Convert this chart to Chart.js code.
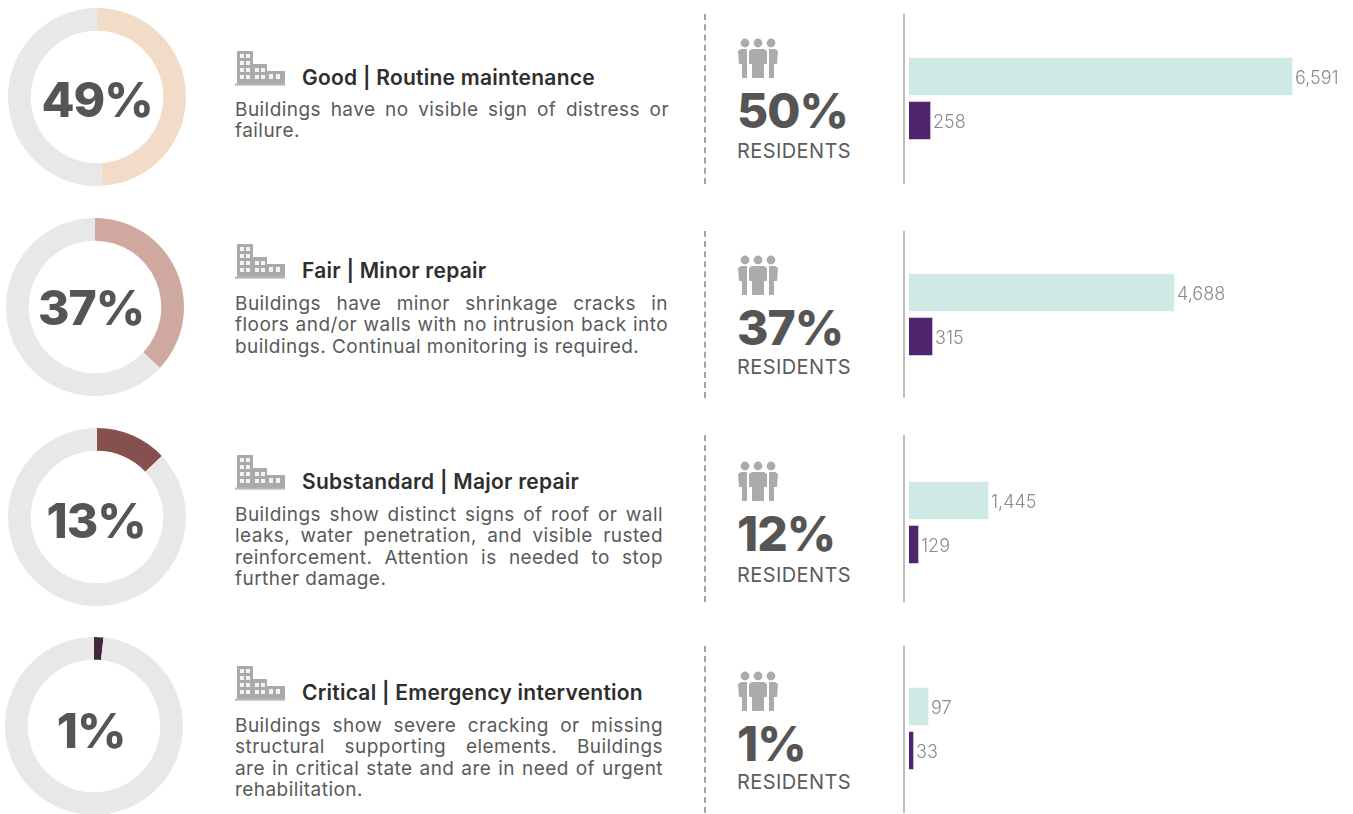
<!DOCTYPE html>
<html>
<head>
<meta charset="utf-8">
<title>Building condition</title>
<script src="https://cdn.jsdelivr.net/npm/chart.js@4"></script>
<style>
  html, body { margin: 0; background: #fff; width: 1353px; height: 814px; overflow: hidden; }
  body { position: relative; font-family: Inter, sans-serif; color: #555; }
  .abs { position: absolute; white-space: nowrap; }
  canvas { position: absolute; }
  .big { font-family: Inter, sans-serif; font-weight: 800; font-size: 48px; letter-spacing: -1px; color: #555; }
  .center { transform: translate(-50%, -50%); }
  .title { font-family: Inter, sans-serif; font-weight: 600; font-size: 21px; letter-spacing: 0.25px; color: #2e2e2e; transform: translateY(-50%); }
  .line { font-size: 19px; letter-spacing: 0.45px; color: #5a5a5a; line-height: 21px; height: 21px; white-space: normal; }
  .line.just { text-align: justify; text-align-last: justify; }
  .res { font-family: Inter, sans-serif; font-size: 20px; letter-spacing: 0.4px; color: #5c5c5c; transform: translateY(-50%); }
  .dash { width: 0; border-left: 2px dashed #a3a3a3; }
  .rule { width: 2px; background: #bdbdbd; }
  .icon svg { display: block; filter: blur(0.5px); }
</style>
</head>
<body>
<svg width="0" height="0" style="position:absolute">
  <symbol id="building" viewBox="0 0 50 36">
    <path fill="#aaa" fill-rule="evenodd" d="M2 1h16v13h14v7h18v13H2z"/>
    <path fill="#f4f4f4" d="M5 4h4v4H5zM11 4h4v4h-4zM5 11h4v4H5zM11 11h4v4h-4zM5 18h4v4H5zM11 18h4v4h-4zM5 25h4v4H5zM11 25h4v4h-4zM20 18h4v4h-4zM26 18h4v4h-4zM20 25h4v4h-4zM26 25h4v4h-4zM34 24h4v5h-4zM41 24h4v5h-4z"/>
    <rect x="0" y="33.6" width="50" height="2" fill="#b5b5b5"/>
  </symbol>
  <symbol id="people" viewBox="0 0 40 40">
    <g fill="#ababab">
      <circle cx="7" cy="5" r="4.4"/><circle cx="20" cy="5" r="4.4"/><circle cx="33" cy="5" r="4.4"/>
      <path d="M0 13l3-2h6v29H4V26H1zM40 13l-3-2h-6v29h5V26h3z"/>
      <path d="M11 13l3-2h12l3 2v13h-3v14H14V26h-3z"/>
    </g>
  </symbol>
</svg>
<script>
// condition bands, top to bottom
const titles = ['Good | Routine maintenance', 'Fair | Minor repair', 'Substandard | Major repair', 'Critical | Emergency intervention'];
const buildingShareLabels = ['49%', '37%', '13%', '1%'];
const residentShareLabels = ['50%', '37%', '12%', '1%'];
// arc share as drawn in the rings
const buildingShares = [49, 37, 13, 1.7];
const buildingCounts = [6591, 4688, 1445, 97];
const residentCounts = [258, 315, 129, 33];
// the picture does not use one common bar scale, so each row has its own
const buildingAxisMax = [7641, 7855, 8121, 2267];
const residentAxisMax = [5455, 6081, 6364, 3663];
const descriptions = [
  ['Buildings have no visible sign of distress or', 'failure.'],
  ['Buildings have minor shrinkage cracks in', 'floors and/or walls with no intrusion back into', 'buildings. Continual monitoring is required.'],
  ['Buildings show distinct signs of roof or wall', 'leaks, water penetration, and visible rusted', 'reinforcement. Attention is needed to stop', 'further damage.'],
  ['Buildings show severe cracking or missing', 'structural supporting elements. Buildings', 'are in critical state and are in need of urgent', 'rehabilitation.']
];

const ringColors = ['#f2dcc8', '#cfa8a0', '#86504f', '#41293a'];
const ringGray = '#e8e8e8';
const tealBar = '#cfe9e4';
const purpleBar = '#4f266e';

// layout of each row
const ringCenter = [[97, 97], [95, 307], [97, 517], [94, 726]];
const ringText = [[97, 99], [91, 307], [96, 520], [91, 730]];
const buildingIconY = [50, 243, 454, 665];
const titleY = [77, 270, 481, 692];
const bodyY = [99, 293, 504, 715];
const bodyWidth = [434, 433, 428, 428];
const peopleIconY = [38, 255, 461, 671];
const resPctY = [110, 327, 533, 743];
const resLabelY = [151, 367, 575, 782];
const barTop = [54, 270, 478, 684];
const ruleSpan = [[14, 184], [231, 398], [435, 602], [646, 813]];

Chart.defaults.animation = false;
Chart.defaults.responsive = false;

function addEl(cls, left, top, text) {
  const el = document.createElement('div');
  el.className = 'abs ' + cls;
  el.style.left = left + 'px';
  el.style.top = top + 'px';
  if (text !== undefined) el.textContent = text;
  document.body.appendChild(el);
  return el;
}

function addCanvas(left, top, w, h) {
  const c = document.createElement('canvas');
  c.width = w;
  c.height = h;
  c.style.left = left + 'px';
  c.style.top = top + 'px';
  document.body.appendChild(c);
  return c;
}

function addIcon(name, left, top, w, h) {
  const holder = addEl('icon', left, top);
  holder.innerHTML = `<svg width="${w}" height="${h}"><use href="#${name}"/></svg>`;
}

// value labels at the bar ends
const barLabels = {
  id: 'barLabels',
  afterDatasetsDraw(chart) {
    const ctx = chart.ctx;
    ctx.save();
    ctx.font = '300 18px Inter, sans-serif';
    ctx.fillStyle = '#8a8a8a';
    ctx.textBaseline = 'middle';
    chart.data.datasets.forEach((ds, i) => {
      chart.getDatasetMeta(i).data.forEach((bar, j) => {
        if (ds.data[j] == null) return;
        ctx.fillText(ds.data[j].toLocaleString('en-US'), bar.x + 3, bar.y + 2);
      });
    });
    ctx.restore();
  }
};

titles.forEach((title, i) => {
  const [cx, cy] = ringCenter[i];
  new Chart(addCanvas(cx - 90, cy - 90, 180, 180), {
    type: 'doughnut',
    data: {
      datasets: [{
        data: [buildingShares[i], 100 - buildingShares[i]],
        backgroundColor: [ringColors[i], ringGray],
        borderWidth: 0
      }]
    },
    options: {
      radius: 89,
      cutout: 67,
      plugins: { legend: { display: false }, tooltip: { enabled: false } }
    }
  });
  addEl('big center', ringText[i][0], ringText[i][1], buildingShareLabels[i]);

  addIcon('building', 235, buildingIconY[i], 50, 36);
  addEl('title', 302, titleY[i], title);
  descriptions[i].forEach((line, k) => {
    const last = k === descriptions[i].length - 1;
    const el = addEl('line' + (last ? '' : ' just'), 235, bodyY[i] + Math.round(k * 21.3), line);
    el.style.width = bodyWidth[i] + 'px';
  });

  const dash = addEl('dash', 704, ruleSpan[i][0]);
  dash.style.height = (ruleSpan[i][1] - ruleSpan[i][0]) + 'px';

  addIcon('people', 738, peopleIconY[i], 40, 40);
  const res = addEl('big', 737, resPctY[i], residentShareLabels[i]);
  res.style.transform = 'translateY(-50%)';
  addEl('res', 737, resLabelY[i], 'RESIDENTS');

  const rule = addEl('rule', 903, ruleSpan[i][0]);
  rule.style.height = (ruleSpan[i][1] - ruleSpan[i][0]) + 'px';

  new Chart(addCanvas(909, barTop[i], 444, 89), {
    type: 'bar',
    data: {
      labels: ['Buildings', 'Residents'],
      datasets: [
        { data: [buildingCounts[i], null], backgroundColor: tealBar, xAxisID: 'x', barThickness: 37, grouped: false },
        { data: [null, residentCounts[i]], backgroundColor: purpleBar, xAxisID: 'x2', barThickness: 37, grouped: false }
      ]
    },
    options: {
      indexAxis: 'y',
      layout: { padding: { top: 0.5, bottom: 0.5 } },
      scales: {
        x: { display: false, min: 0, max: buildingAxisMax[i] },
        x2: { display: false, min: 0, max: residentAxisMax[i] },
        y: { display: false }
      },
      plugins: { legend: { display: false }, tooltip: { enabled: false } }
    },
    plugins: [barLabels]
  });
});
</script>
</body>
</html>
